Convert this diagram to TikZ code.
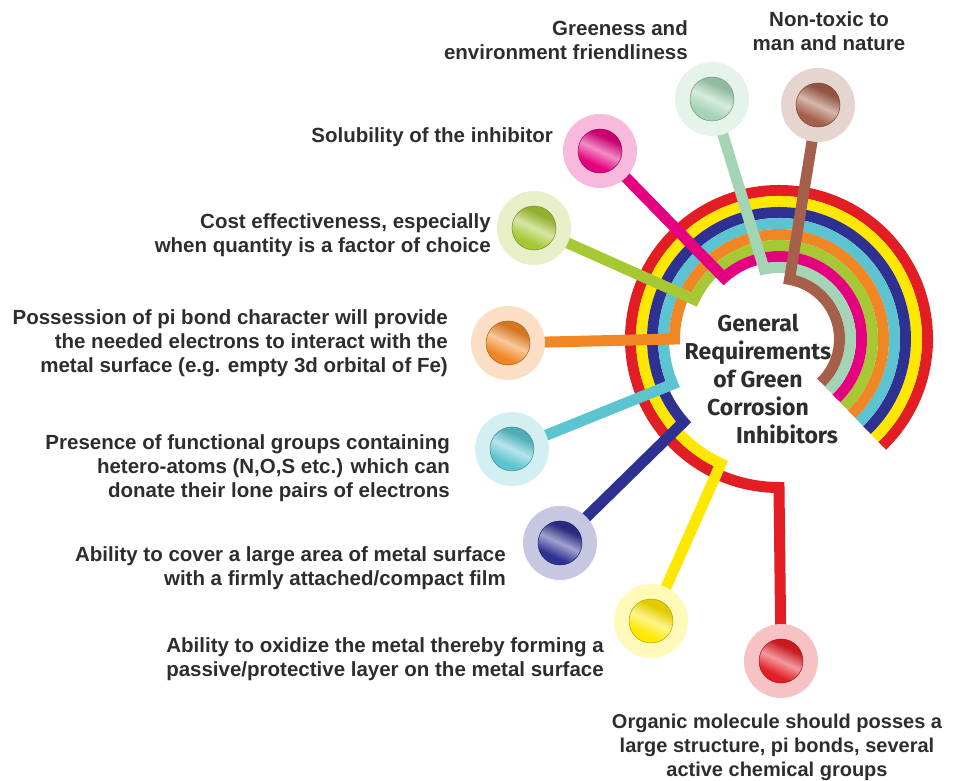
\documentclass[tikz,border=0pt]{standalone}
\usepackage{fontspec}
\setmainfont{Liberation Sans}
\newfontfamily\hubfont{Fira Sans}
\usetikzlibrary{backgrounds}

\definecolor{ringred}{RGB}{226,30,36}
\definecolor{ringyellow}{RGB}{255,232,0}
\definecolor{ringnavy}{RGB}{46,49,146}
\definecolor{ringteal}{RGB}{92,196,208}
\definecolor{ringorange}{RGB}{240,134,36}
\definecolor{ringgreen}{RGB}{166,200,52}
\definecolor{ringmagenta}{RGB}{228,0,126}
\definecolor{ringmint}{RGB}{164,212,182}
\definecolor{ringbrown}{RGB}{164,96,74}
\definecolor{inkgray}{RGB}{45,45,45}
\colorlet{bulbdark}{black}
\colorlet{bulbmid}{gray}
\colorlet{bulblight}{white}
\pgfdeclareverticalshading[bulbdark,bulbmid,bulblight]{bulbglow}{100bp}{%
    color(0bp)=(bulbmid); color(25bp)=(bulbmid); color(40bp)=(bulbmid);
    color(50bp)=(bulblight); color(60bp)=(bulbdark); color(75bp)=(bulbdark); color(100bp)=(bulbdark)}

\begin{document}
\begin{tikzpicture}[x=1pt, y=1pt]
    \tikzset{
        bulb/.style={circle, minimum size=74pt, inner sep=0pt, fill=#1!27,
            path picture={\colorlet{bulbdark}{#1!88!black}\colorlet{bulbmid}{#1}\colorlet{bulblight}{#1!45!white}%
                \shadedraw[draw=#1!70!black, line width=0.5pt, shading=bulbglow, shading angle=-25]
                (path picture bounding box.center) circle[radius=22pt];}},
        band/.style={draw=#1, line width=11pt, line join=miter},
        lbl/.style={font=\bfseries\fontsize{20.5}{24}\selectfont, text=inkgray, inner sep=0pt}
    }
    \useasboundingbox (0,0) rectangle (955,781);
    \coordinate (hub) at (779,442);

    \node[bulb=ringred] (organic) at (781,120) {};
    \node[bulb=ringyellow] (oxidize) at (651,160) {};
    \node[bulb=ringnavy] (cover) at (560,238) {};
    \node[bulb=ringteal] (hetero) at (512,332) {};
    \node[bulb=ringorange] (pibond) at (508,438) {};
    \node[bulb=ringgreen] (cost) at (534,553) {};
    \node[bulb=ringmagenta] (soluble) at (600,630) {};
    \node[bulb=ringmint] (green) at (712,682) {};
    \node[bulb=ringbrown] (nontoxic) at (818,676) {};

    \node[lbl, align=center, anchor=north, font=\bfseries\fontsize{20}{24}\selectfont] (organictxt) at (777,67) {Organic molecule should posses a\\large structure, pi bonds, several\\active chemical groups};
    \node[lbl, align=right, anchor=east] (oxidizetxt) at (604,122) {Ability to oxidize the metal thereby forming a\\passive/protective layer on the metal surface};
    \node[lbl, align=right, anchor=east] (covertxt) at (506,213) {Ability to cover a large area of metal surface\\with a firmly attached/compact film};
    \node[lbl, align=right, anchor=east] (heterotxt) at (450,313) {Presence of functional groups containing\\hetero-atoms (N,O,S etc.) which can\\donate their lone pairs of electrons};
    \node[lbl, align=right, anchor=east] (pibondtxt) at (448,438) {Possession of pi bond character will provide\\the needed electrons to interact with the\\metal surface (e.g. empty 3d orbital of Fe)};
    \node[lbl, align=right, anchor=east] (costtxt) at (491,546) {Cost effectiveness, especially\\when quantity is a factor of choice};
    \node[lbl, align=right, anchor=east] (solubletxt) at (553,644) {Solubility of the inhibitor};
    \node[lbl, align=right, anchor=east] (greentxt) at (688,741) {Greeness and\\environment friendliness};
    \node[lbl, align=center] (nontoxictxt) at (829,750) {Non-toxic to\\man and nature};

    \node[font=\hubfont\bfseries\fontsize{23}{28}\selectfont, text=inkgray, align=center] (title) at (758,402)
        {General\\Requirements\\of Green\\Corrosion\\\hspace*{58pt}Inhibitors};

    \begin{pgfonlayer}{background}
        \draw[band=ringred] (organic.center) -- ([shift={(270:148.5)}]hub) arc[start angle=270, end angle=-46, radius=148.5];
        \draw[band=ringyellow] (oxidize.center) -- ([shift={(245:137.5)}]hub) arc[start angle=245, end angle=-46, radius=137.5];
        \draw[band=ringnavy] (cover.center) -- ([shift={(221:126.5)}]hub) arc[start angle=221, end angle=-46, radius=126.5];
        \draw[band=ringteal] (hetero.center) -- ([shift={(203:115.5)}]hub) arc[start angle=203, end angle=-46, radius=115.5];
        \draw[band=ringorange] (pibond.center) -- ([shift={(180:104.5)}]hub) arc[start angle=180, end angle=-46, radius=104.5];
        \draw[band=ringgreen] (cost.center) -- ([shift={(155:93.5)}]hub) arc[start angle=155, end angle=-46, radius=93.5];
        \draw[band=ringmagenta] (soluble.center) -- ([shift={(132:82.5)}]hub) arc[start angle=132, end angle=-46, radius=82.5];
        \draw[band=ringmint] (green.center) -- ([shift={(102:71.5)}]hub) arc[start angle=102, end angle=-46, radius=71.5];
        \draw[band=ringbrown] (nontoxic.center) -- ([shift={(80:60.5)}]hub) arc[start angle=80, end angle=-46, radius=60.5];
    \end{pgfonlayer}
\end{tikzpicture}
\end{document}
